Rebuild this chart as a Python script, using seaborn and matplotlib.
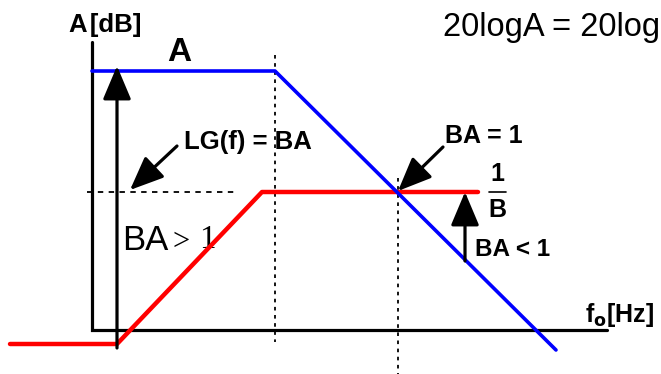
import numpy as np
import pandas as pd
import seaborn as sns
import matplotlib.pyplot as plt

sns.set_style("white")
plt.rcParams['font.family'] = ['Liberation Sans', 'DejaVu Sans']
plt.rcParams['text.color'] = 'black'

# diagram coordinates (frequency position, level), drawn on a pixel-like grid
axis_x = [92, 92, 607]
axis_y = [42, 330, 330]

open_loop_x = [92, 275, 556]          # A
open_loop_y = [71, 71, 350]
closed_loop_x = [10, 117, 262, 478]   # 1/B
closed_loop_y = [344, 344, 192, 192]

corner_f = 275
cross_f = 398
level_1B = 192

fig = plt.figure(figsize=(6.61, 3.74), dpi=100)
ax = fig.add_axes([0, 0, 1, 1])
ax.set_xlim(0, 661)
ax.set_ylim(374, 0)
ax.axis('off')

# axes of the diagram
ax.plot(axis_x, axis_y, color='black', lw=2.3, solid_joinstyle='miter', zorder=3)

# dotted guide lines
ax.plot([corner_f, corner_f], [55, 342], color='black', lw=1.3, ls=(0, (2, 2.5)), zorder=2)
ax.plot([cross_f, cross_f], [178, 374], color='black', lw=1.3, ls=(0, (2, 2.5)), zorder=2)
ax.plot([87, 238], [level_1B, level_1B], color='black', lw=1.3, ls=(0, (3, 3)), zorder=2)

# curves
sns.lineplot(x=open_loop_x, y=open_loop_y, sort=False, color='#0000ff', lw=2.6,
             ax=ax, zorder=5, estimator=None)
sns.lineplot(x=closed_loop_x, y=closed_loop_y, sort=False, color='#ff0000', lw=3.2,
             ax=ax, zorder=4, estimator=None)

# arrows
arrow = dict(arrowstyle='-|>,head_length=0.9,head_width=0.38', color='black', lw=2.3,
             shrinkA=0, shrinkB=0, mutation_scale=23)
ax.annotate('', xy=(117, 66), xytext=(117, 348), arrowprops=arrow, zorder=6)
ax.annotate('', xy=(465, 192), xytext=(465, 261), arrowprops=arrow, zorder=6)
ax.annotate('', xy=(130, 190), xytext=(177, 146), arrowprops=arrow, zorder=6)
ax.annotate('', xy=(398, 191), xytext=(443, 147), arrowprops=arrow, zorder=6)

# labels
ax.text(105, 25, 'A\u200a[dB]', fontsize=18.5, fontweight='bold', ha='center', va='center')
ax.text(179, 52, 'A', fontsize=24, fontweight='bold', ha='center', va='center')
ax.text(248, 142, 'LG(f) = BA', fontsize=18.5, fontweight='bold', ha='center', va='center')
ax.text(443, 27, '20logA = 20log', fontsize=23.5, ha='left', va='center')
ax.text(484, 136, 'BA = 1', fontsize=18, fontweight='bold', ha='center', va='center')
ax.text(497, 174, '1', fontsize=18, fontweight='bold', ha='center', va='center')
ax.plot([489, 506], [level_1B, level_1B], color='black', lw=1.2)
ax.text(497, 210, 'B', fontsize=18, fontweight='bold', ha='center', va='center')
ax.text(122, 240, 'BA', fontsize=25, ha='left', va='center')
ax.text(173, 242, '>', fontsize=22, ha='left', va='center', family='Liberation Serif')
ax.text(199, 240, '1', fontsize=24, ha='left', va='center', family='Liberation Serif')
ax.text(475, 249, 'BA < 1', fontsize=17.5, fontweight='bold', ha='left', va='center')
ax.text(585, 315, r'f$_\mathbf{o}$[Hz]', fontsize=18, fontweight='bold', ha='left', va='center')

fig.savefig('out.png', dpi=100)
